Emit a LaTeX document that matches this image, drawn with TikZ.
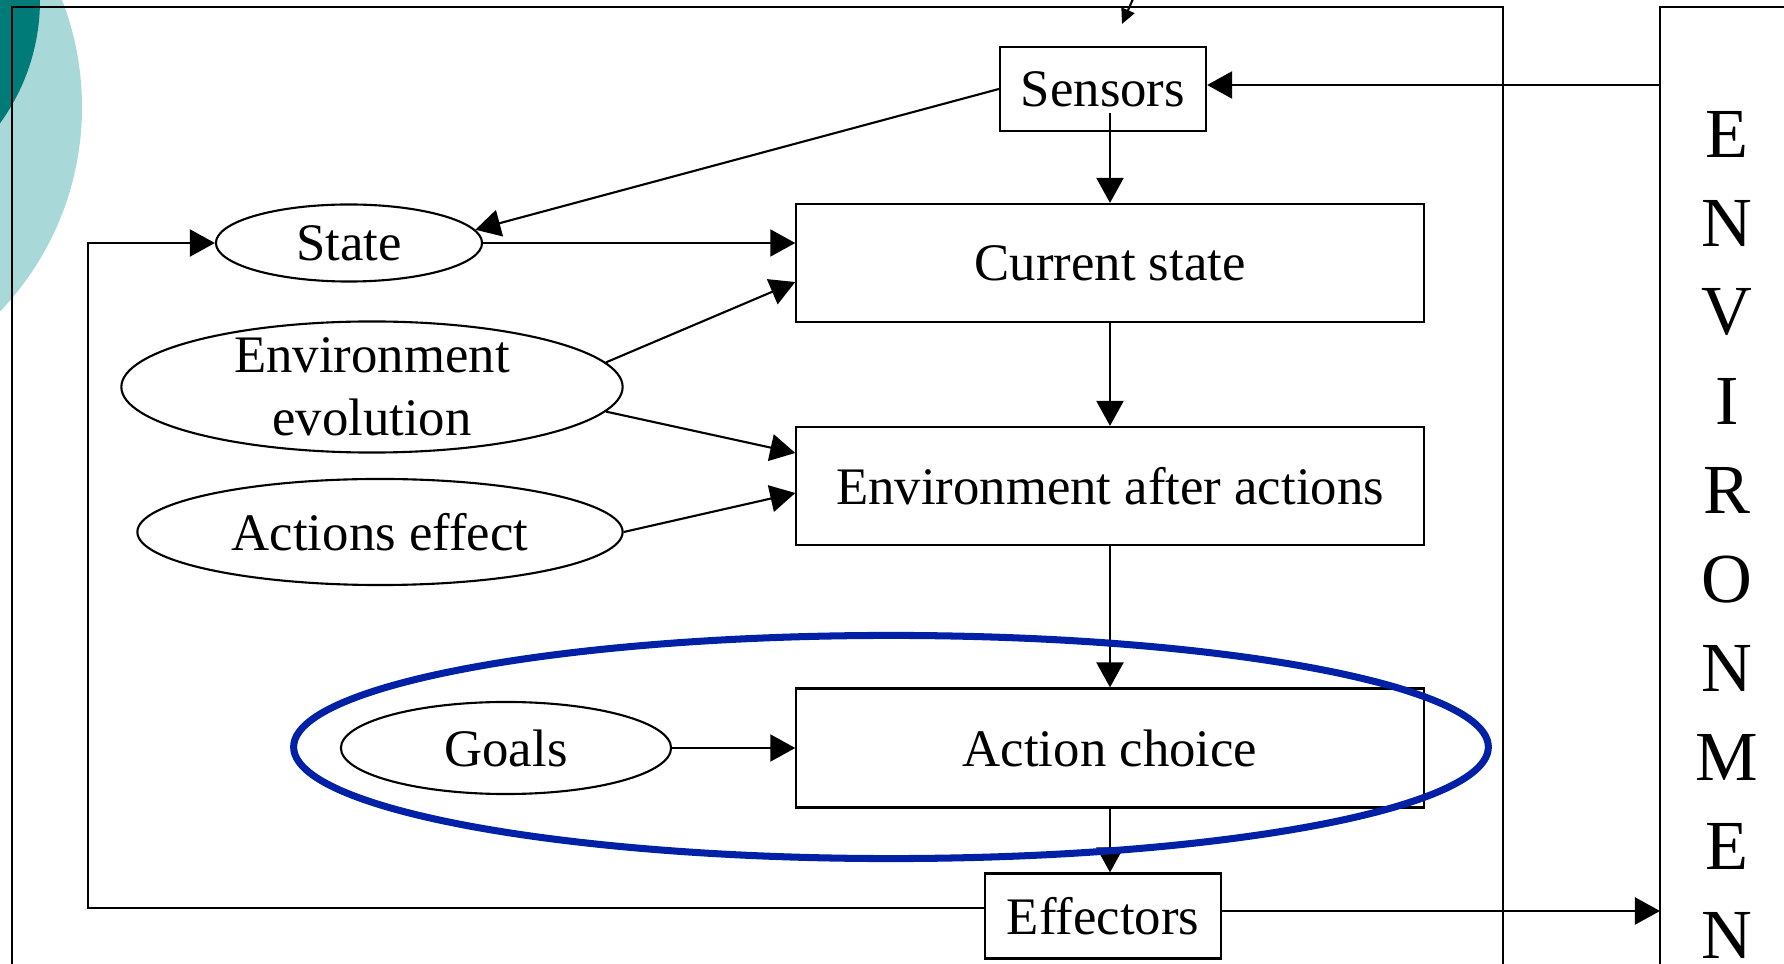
\documentclass[tikz,border=0pt]{standalone}
\usepackage{fontspec}
\setmainfont{Liberation Serif}
\usetikzlibrary{arrows.meta,shapes.geometric}
\definecolor{tealclaro}{HTML}{A8D8D8}
\definecolor{tealoscuro}{HTML}{007B78}
\definecolor{azulfoco}{HTML}{0021A5}

\begin{document}
\begin{tikzpicture}[
  x=0.01cm, y=-0.01cm,
  font=\fontsize{15}{18}\selectfont,
  line width=0.6pt,
  caja/.style={draw, inner sep=0pt, align=center},
  ovalo/.style={draw, ellipse, inner sep=0pt, align=center},
  flecha/.style={-{Triangle[length=0.25cm, width=0.27cm]}},
  letra/.style={font=\fontsize{20}{24}\selectfont, inner sep=0pt}
]
  \useasboundingbox (0,0) rectangle (1784,964);
  \clip (0,0) rectangle (1784,964);
  \fill[tealclaro] (-214,107) circle[radius=296];
  \fill[tealoscuro] (-170,0) circle[radius=210];

  \draw (12,7) rectangle (1503,1000);
  \draw (1660,7) rectangle (1800,1000);
  \coordinate (envl) at (1660,0);
  \foreach \l [count=\i from 0] in {E,N,V,I,R,O,N,M,E,N}
    \node[letra] (l\i) at (1727,134+89.1*\i) {\l};

  \node[caja, minimum width=2.06cm, minimum height=0.84cm] (sens) at (1103,89) {Sensors};
  \node[caja, minimum width=6.27cm, minimum height=1.18cm] (cur) at (1110,263) {Current state};
  \node[caja, minimum width=6.27cm, minimum height=1.18cm] (tras) at (1110,486) {Environment after actions};
  \node[caja, minimum width=6.27cm, minimum height=1.19cm] (elec) at (1110,748) {Action choice};
  \node[caja, minimum width=2.36cm, minimum height=0.85cm] (efec) at (1103,916) {Effectors};

  \node[ovalo, minimum width=2.66cm, minimum height=0.77cm] (est) at (349,243) {State};
  \node[ovalo, minimum width=5.01cm, minimum height=1.31cm, inner ysep=-0.08cm] (evol) at (372,387) {Environment\\evolution};
  \node[ovalo, minimum width=4.85cm, minimum height=1.06cm] (efac) at (380,532) {Actions effect};
  \node[ovalo, minimum width=3.30cm, minimum height=0.92cm] (metas) at (506,748) {Goals};

  \coordinate (arriba) at (1150,-40);
  \coordinate (entrada) at (1122,24);
  \coordinate (sbajo) at ([yshift=-0.24cm]sens.center);
  \coordinate (sder) at ([yshift=0.04cm]sens.east);
  \coordinate (eizq) at ([yshift=0.08cm]efec.west);
  \coordinate (eder) at ([yshift=0.05cm]efec.east);
  \coordinate (bucle) at (88,243);

  \draw[-{Triangle[length=0.15cm, width=0.14cm]}] (arriba) -- (entrada);
  \draw[flecha] (envl |- sder) -- (sder);
  \draw[flecha] (sbajo -| cur.north) -- (cur.north);
  \draw[flecha] (sens.west) -- (est.6);
  \draw[flecha] (est.east) -- (est.east -| cur.west);
  \draw[flecha] (evol.6) -- ([yshift=-0.19cm]cur.west);
  \draw[flecha] (evol.-6) -- ([yshift=0.33cm]tras.west);
  \draw[flecha] (efac.east) -- ([yshift=-0.07cm]tras.west);
  \draw[flecha] (cur) -- (tras);
  \draw[flecha] (tras) -- (elec);
  \draw[flecha] (elec.south) -- (elec.south |- efec.north);
  \draw[flecha] (metas) -- (elec);
  \draw[flecha] (eder) -- (eder -| envl);
  \draw[flecha] (eizq) -| (bucle) -- (est.west);

  \node[ovalo, draw=azulfoco, line width=2pt, minimum width=11.94cm, minimum height=2.23cm] (foco) at (891,747) {};
\end{tikzpicture}
\end{document}
